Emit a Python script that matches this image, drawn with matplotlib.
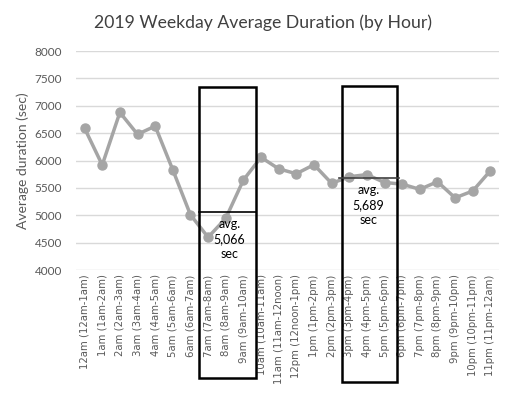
import matplotlib.pyplot as plt
from matplotlib.patches import Rectangle

hours = ['12am (12am-1am)', '1am (1am-2am)', '2am (2am-3am)', '3am (3am-4am)',
         '4am (4am-5am)', '5am (5am-6am)', '6am (6am-7am)', '7am (7am-8am)',
         '8am (8am-9am)', '9am (9am-10am)', '10am (10am-11am)',
         '11am (11am-12noon)', '12pm (12noon-1pm)', '1pm (1pm-2pm)',
         '2pm (2pm-3pm)', '3pm (3pm-4pm)', '4pm (4pm-5pm)', '5pm (5pm-6pm)',
         '6pm (6pm-7pm)', '7pm (7pm-8pm)', '8pm (8pm-9pm)', '9pm (9pm-10pm)',
         '10pm (10pm-11pm)', '11pm (11pm-12am)']
duration = [6590, 5920, 6880, 6480, 6630, 5830, 5010, 4600, 4945, 5645,
            6060, 5850, 5760, 5925, 5585, 5705, 5745, 5600,
            5570, 5475, 5615, 5320, 5445, 5815]
yticks = [4000, 4500, 5000, 5500, 6000, 6500, 7000, 7500, 8000]

# highlighted windows: (first idx, last idx, average)
am_peak = (7, 9, 5066)
pm_peak = (15, 17, 5689)

plt.rcParams['font.family'] = ['Lato', 'DejaVu Sans']
txt = '#595959'

fig = plt.figure(figsize=(5.12, 3.99), dpi=100)
ax = fig.add_axes([0.148, 0.323, 0.827, 0.549])

x = list(range(len(hours)))
ax.plot(x, duration, color='#a5a5a5', lw=2.5, marker='o', ms=6.5, zorder=3)

ax.set_xlim(-0.5, 23.5)
ax.set_ylim(4000, 8000)
ax.set_yticks(yticks)
ax.set_yticklabels([str(v) for v in yticks], color=txt, fontsize=8.5)
ax.set_xticks(x)
ax.set_xticklabels(hours, rotation=90, color=txt, fontsize=7.3,
                   family='DejaVu Sans')
ax.tick_params(length=0)
ax.tick_params(axis='x', pad=3)
ax.tick_params(axis='y', pad=10)
ax.grid(axis='y', color='#d9d9d9', lw=1)
for s in ax.spines.values():
    s.set_visible(False)
ax.set_axisbelow(True)

ax.set_ylabel('Average duration (sec)', color=txt, fontsize=10)
fig.suptitle('2019 Weekday Average Duration (by Hour)', color='#404040',
             fontsize=12.7, y=0.965, x=0.513)

# boxes around the peaks
ax.add_patch(Rectangle((am_peak[0] - 0.53, 2030), 3.26, 7340 - 2030,
                       fill=False, ec='black', lw=1.8, clip_on=False, zorder=4))
ax.add_patch(Rectangle((pm_peak[0] - 0.41, 1960), 3.11, 7360 - 1960,
                       fill=False, ec='black', lw=1.8, clip_on=False, zorder=4))
ax.plot([am_peak[0] - 0.53, am_peak[1] + 0.73], [am_peak[2]] * 2,
        color='black', lw=1.2, zorder=4)
ax.plot([pm_peak[0] - 0.6, pm_peak[1] + 0.8], [pm_peak[2]] * 2,
        color='#404040', lw=1.2, zorder=4)

ax.text(8.2, am_peak[2] - 120, 'avg.\n{:,}\nsec'.format(am_peak[2]),
        ha='center', va='top', fontsize=9, color='black', linespacing=1.3,
        zorder=5)
ax.text(16.1, pm_peak[2] - 120, 'avg.\n{:,}\nsec'.format(pm_peak[2]),
        ha='center', va='top', fontsize=9, color='black', linespacing=1.3,
        zorder=5)

fig.savefig('out.png', dpi=100)
